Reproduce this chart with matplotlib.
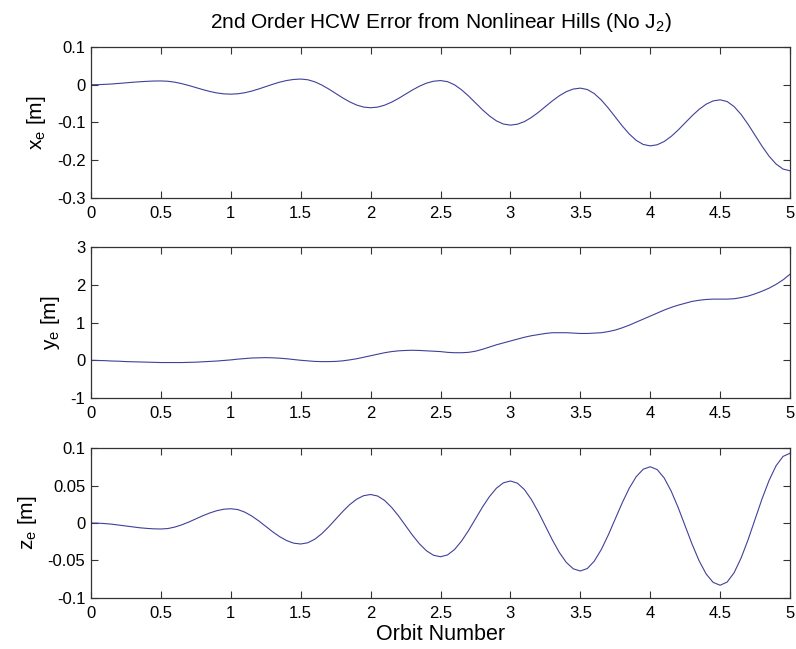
import numpy as np
import matplotlib
matplotlib.use('Agg')
import matplotlib.pyplot as plt
from matplotlib.ticker import FormatStrFormatter

# orbit number, sampled every 0.05
orbits = np.round(np.arange(0, 5.0001, 0.05), 2)

# radial error x_e [m]
x_err = [
    0.0, 0.0002, 0.001, 0.002, 0.0035, 0.005, 0.0066, 0.0079, 0.009, 0.0098, 0.010,
    0.0092, 0.0067, 0.0028, -0.0021, -0.0075, -0.0129, -0.0178, -0.0217, -0.0242, -0.025,
    -0.024, -0.0212, -0.0168, -0.0112, -0.005, 0.0012, 0.0068, 0.0112, 0.014, 0.015,
    0.0132, 0.0078, -0.0007, -0.0112, -0.023, -0.0348, -0.0453, -0.0538, -0.0592, -0.061,
    -0.0593, -0.0542, -0.0462, -0.0362, -0.025, -0.0138, -0.0038, 0.0042, 0.0093, 0.011,
    0.0082, -0.0002, -0.0133, -0.0297, -0.048, -0.0663, -0.0827, -0.0958, -0.1042, -0.107,
    -0.1046, -0.0977, -0.0868, -0.0732, -0.058, -0.0428, -0.0292, -0.0183, -0.0114, -0.009,
    -0.0127, -0.0235, -0.0405, -0.0618, -0.0855, -0.1092, -0.1305, -0.1475, -0.1583, -0.162,
    -0.1591, -0.1504, -0.1369, -0.1199, -0.101, -0.0821, -0.0651, -0.0516, -0.0429, -0.040,
    -0.0445, -0.0579, -0.0787, -0.1049, -0.134, -0.1631, -0.1893, -0.2101, -0.2235, -0.228,
]

# along-track error y_e [m]
y_err = [
    0.00, -0.005, -0.01, -0.02, -0.025, -0.035, -0.04, -0.045, -0.05, -0.055, -0.06,
    -0.06, -0.06, -0.06, -0.055, -0.05, -0.04, -0.03, -0.02, -0.005, 0.01,
    0.03, 0.045, 0.06, 0.065, 0.07, 0.065, 0.055, 0.04, 0.02, 0.00,
    -0.015, -0.03, -0.035, -0.035, -0.03, -0.015, 0.01, 0.04, 0.08, 0.12,
    0.16, 0.20, 0.23, 0.25, 0.26, 0.265, 0.26, 0.25, 0.24, 0.23,
    0.21, 0.20, 0.20, 0.21, 0.24, 0.29, 0.35, 0.41, 0.46, 0.51,
    0.56, 0.61, 0.65, 0.68, 0.71, 0.73, 0.73, 0.73, 0.72, 0.71,
    0.71, 0.72, 0.73, 0.76, 0.80, 0.86, 0.93, 1.01, 1.09, 1.17,
    1.25, 1.33, 1.40, 1.46, 1.51, 1.56, 1.59, 1.61, 1.62, 1.62,
    1.62, 1.63, 1.66, 1.70, 1.76, 1.83, 1.91, 2.01, 2.13, 2.28,
]

# cross-track error z_e [m]
z_err = [
    0.0, -0.0002, -0.0008, -0.0016, -0.0028, -0.004, -0.0052, -0.0064, -0.0072, -0.0078, -0.008,
    -0.0074, -0.0054, -0.0024, 0.0013, 0.0055, 0.0097, 0.0134, 0.0164, 0.0184, 0.019,
    0.0179, 0.0145, 0.0093, 0.0028, -0.0045, -0.0118, -0.0183, -0.0235, -0.0269, -0.028,
    -0.0264, -0.0217, -0.0144, -0.0052, 0.005, 0.0152, 0.0244, 0.0317, 0.0364, 0.038,
    0.036, 0.0301, 0.0209, 0.0094, -0.0035, -0.0164, -0.0279, -0.0371, -0.043, -0.045,
    -0.0426, -0.0354, -0.0242, -0.0102, 0.0055, 0.0212, 0.0352, 0.0464, 0.0536, 0.056,
    0.0531, 0.0446, 0.0313, 0.0146, -0.004, -0.0226, -0.0393, -0.0526, -0.0611, -0.064,
    -0.0607, -0.0508, -0.0354, -0.016, 0.0055, 0.027, 0.0464, 0.0618, 0.0717, 0.075,
    0.0712, 0.060, 0.0425, 0.0205, -0.004, -0.0285, -0.0505, -0.068, -0.0792, -0.083,
    -0.0788, -0.0663, -0.0467, -0.0223, 0.005, 0.0323, 0.0567, 0.0763, 0.0888, 0.093,
]

x_ticks = [0, 0.5, 1, 1.5, 2, 2.5, 3, 3.5, 4, 4.5, 5]
panels = [
    (x_err, 'x$_\\mathregular{e}$ [m]', (-0.3, 0.1), [-0.3, -0.2, -0.1, 0, 0.1]),
    (y_err, 'y$_\\mathregular{e}$ [m]', (-1, 3), [-1, 0, 1, 2, 3]),
    (z_err, 'z$_\\mathregular{e}$ [m]', (-0.1, 0.1), [-0.1, -0.05, 0, 0.05, 0.1]),
]

plt.rcParams['font.family'] = ['Liberation Sans', 'DejaVu Sans']
plt.rcParams['mathtext.default'] = 'regular'
fig = plt.figure(figsize=(7.96, 6.49), dpi=100)

# axes boxes in figure fractions [left, bottom, width, height]
boxes = [
    [0.1143, 0.695, 0.8782, 0.2326],
    [0.1143, 0.3867, 0.8782, 0.2327],
    [0.1143, 0.0786, 0.8782, 0.2311],
]

axes = []
for (vals, label, ylim, yticks), box in zip(panels, boxes):
    ax = fig.add_axes(box)
    ax.plot(orbits, vals, color='#40409a', lw=0.8, solid_joinstyle='round')
    ax.set_xlim(0, 5)
    ax.set_ylim(*ylim)
    ax.set_xticks(x_ticks)
    ax.set_yticks(yticks)
    ax.xaxis.set_major_formatter(FormatStrFormatter('%g'))
    ax.yaxis.set_major_formatter(FormatStrFormatter('%g'))
    ax.tick_params(direction='in', top=True, right=True, length=5, width=0.8,
                   labelsize=12, color='#333333', pad=4)
    ax.tick_params(axis='x', pad=6)
    for sp in ax.spines.values():
        sp.set_color('#333333')
        sp.set_linewidth(0.9)
    ax.set_ylabel(label, fontsize=15, labelpad=6)
    axes.append(ax)

axes[0].set_title('2nd Order HCW Error from Nonlinear Hills (No J$_\\mathregular{2}$)',
                  fontsize=15, pad=14)
axes[2].set_xlabel('Orbit Number', fontsize=15.5, labelpad=2)

fig.savefig('out.png', dpi=100)
